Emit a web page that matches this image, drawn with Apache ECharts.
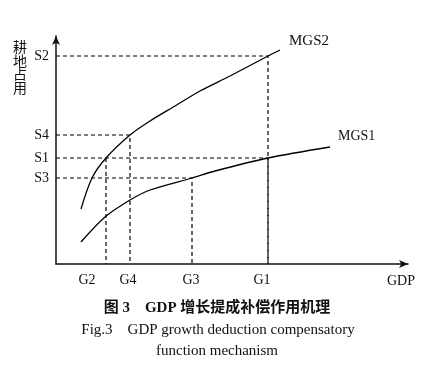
<!DOCTYPE html>
<html><head><meta charset="utf-8">
<script src="https://cdn.jsdelivr.net/npm/echarts@6/dist/echarts.min.js"></script>
<style>html,body{margin:0;padding:0;background:#fff}#c{width:430px;height:378px}</style>
</head><body><div id="c"></div>
<script>
// Data (units: arbitrary GDP / land-occupation scale)
const gLevels = {G2: 50, G4: 74, G3: 136, G1: 212};
const gLabelPos = [31, 72, 135, 206];
const gLabels = ['G2', 'G4', 'G3', 'G1'];
const sLevels = {S2: 208, S4: 129, S1: 106, S3: 86};
const sLabels = ['S2', 'S4', 'S1', 'S3'];
const mgs2 = [[25,55],[36,86],[50,106],[74,129],[94,143],[119,158],[144,173],[174,188],[212,208],[224,214]];
const mgs1 = [[25,22],[49,47],[74,64],[94,74],[136,86],[159,93],[212,106],[274,117]];
const yTitle = ['耕', '地', '占', '用'];
// guide lines: [S level, G level, draw horizontal part]
const guides = [['S2','G1',true],['S4','G4',true],['S1','G1',true],['S3','G3',true],['S1','G2',false]];

const serif = '"Liberation Serif","DejaVu Serif",serif';
const series = [];
guides.forEach(([s,g,h]) => {
  const x = gLevels[g], y = sLevels[s];
  const pts = h ? [[0,y],[x,y],[x,0]] : [[x,y],[x,0]];
  series.push({type:'line', data:pts, symbol:'none', silent:true,
    lineStyle:{color:'#000', width:1.2, type:[4,3]}});
});
series.push({type:'line', data:mgs2, smooth:0.3, symbol:'none',
  lineStyle:{color:'#000', width:1.3},
  endLabel:{show:true, formatter:'MGS2', color:'#111', fontFamily:serif, fontSize:15, offset:[1,-9]}});
series.push({type:'line', data:mgs1, smooth:0.3, symbol:'none',
  lineStyle:{color:'#000', width:1.3},
  endLabel:{show:true, formatter:'MGS1', color:'#111', fontFamily:serif, fontSize:14, offset:[0,-11]}});

const titleEls = yTitle.map((ch, i) => ({type:'text', left:13, top:40 + i*13.5,
  style:{text:ch, fontFamily:'"Noto Sans CJK SC"', fontSize:14, fill:'#111'}}));

const chart = echarts.init(document.getElementById('c'), null, {renderer:'canvas'});
chart.setOption({
  animation:false,
  grid:{left:56, right:22, top:36, bottom:114},
  xAxis:{type:'value', min:0, max:352, splitLine:{show:false},
    axisLine:{lineStyle:{color:'#111', width:1.5}, symbol:['none','arrow'], symbolSize:[6,9]},
    axisTick:{show:false},
    axisLabel:{customValues:gLabelPos, formatter:(v)=>gLabels[gLabelPos.indexOf(v)],
      color:'#111', fontFamily:serif, fontSize:14, margin:9}},
  yAxis:{type:'value', min:0, max:228, splitLine:{show:false},
    axisLine:{show:true, lineStyle:{color:'#111', width:1.5}, symbol:['none','arrow'], symbolSize:[6,9]},
    axisTick:{show:false},
    axisLabel:{customValues:sLabels.map(s=>sLevels[s]),
      formatter:(v)=>sLabels.find(s=>sLevels[s]===v),
      color:'#111', fontFamily:serif, fontSize:14, margin:7}},
  graphic:titleEls.concat([
    {type:'text', left:387, top:274, style:{text:'GDP', fontFamily:serif, fontSize:14, fill:'#111'}},
    {type:'text', x:217, y:308, style:{text:'图 3    GDP 增长提成补偿作用机理', fontFamily:'"Liberation Serif","Noto Sans CJK SC"', fontWeight:'bold', fontSize:15, fill:'#111', align:'center', verticalAlign:'middle'}},
    {type:'text', x:218, y:330, style:{text:'Fig.3    GDP growth deduction compensatory', fontFamily:serif, fontSize:15, fill:'#111', align:'center', verticalAlign:'middle'}},
    {type:'text', x:217, y:351, style:{text:'function mechanism', fontFamily:serif, fontSize:15, fill:'#111', align:'center', verticalAlign:'middle'}}
  ]),
  series
});
</script></body></html>
